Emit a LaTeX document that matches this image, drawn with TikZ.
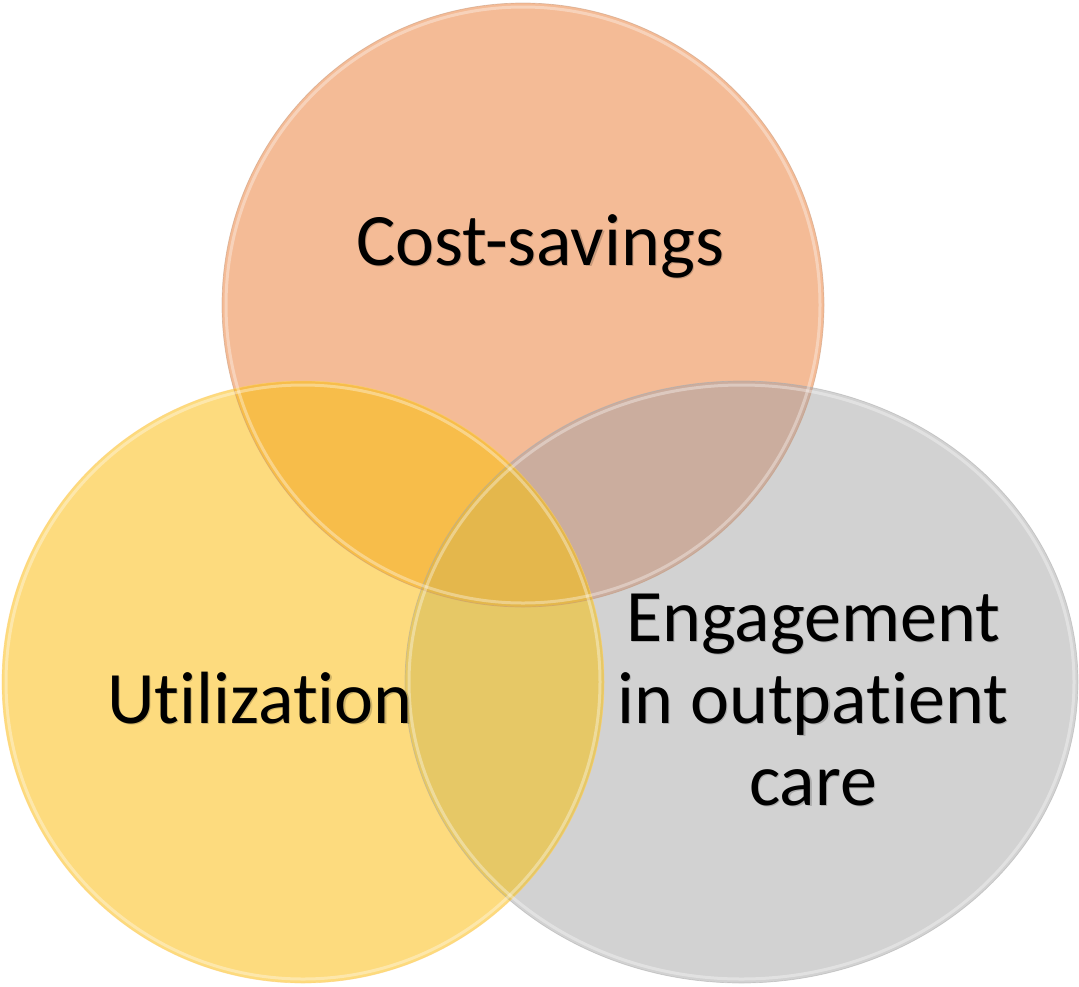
\documentclass[tikz,border=0pt]{standalone}
\usepackage{fontspec}
\setmainfont[Ligatures=NoCommon]{Carlito}
\definecolor{corange}{HTML}{F4BB96}
\definecolor{cyellow}{HTML}{FDDB7E}
\definecolor{cgray}{HTML}{D2D2D2}
\definecolor{cOY}{HTML}{F7BD4A}
\definecolor{cOG}{HTML}{CBAD9E}
\definecolor{cYG}{HTML}{E6C866}
\definecolor{cOYG}{HTML}{E4B74C}
\tikzset{
  lbl/.style={inner sep=0pt, text=black, font=\fontsize{74}{82}\selectfont},
  lblshadow/.style={inner sep=0pt, text=black, text opacity=0.18, font=\fontsize{74}{82}\selectfont},
  rimdark/.style={line width=0.7pt, draw opacity=0.5},
  rimlight/.style={line width=3pt, draw=white, draw opacity=0.35},
}
\newcommand{\orangepath}{(523,305) ellipse [x radius=301pt, y radius=302pt]}
\newcommand{\yellowpath}{(303,682) ellipse [x radius=301pt, y radius=301pt]}
\newcommand{\graypath}{(741.5,682) ellipse [x radius=336.5pt, y radius=301pt]}
\begin{document}
\begin{tikzpicture}[x=1pt,y=-1pt]
\useasboundingbox (0,0) rectangle (1079,986);
% base fills
\fill[corange] \orangepath;
\fill[cgray] \graypath;
\fill[cyellow] \yellowpath;
% pairwise overlaps
\begin{scope}
  \clip \orangepath;
  \fill[cOY] \yellowpath;
  \fill[cOG] \graypath;
\end{scope}
\begin{scope}
  \clip \yellowpath;
  \fill[cYG] \graypath;
\end{scope}
\begin{scope}
  \clip \orangepath;
  \clip \yellowpath;
  \fill[cOYG] \graypath;
\end{scope}
% rims
\draw[rimdark, draw=corange!80!black] \orangepath;
\draw[rimdark, draw=cgray!80!black] \graypath;
\draw[rimdark, draw=cyellow!85!orange] \yellowpath;
\draw[rimlight] (523,305) ellipse [x radius=297pt, y radius=298pt];
\draw[rimlight] (741.5,682) ellipse [x radius=332.5pt, y radius=297pt];
\draw[rimlight] (303,682) ellipse [x radius=297pt, y radius=297pt];
% label shadows
\node[lblshadow, anchor=base] (costs) at (541.2,266.2) {Cost-savings};
\node[lblshadow, anchor=base] (utils) at (261.2,724.2) {Utilization};
\node[lblshadow, anchor=base] (eng1s) at (814.2,642.2) {Engagement};
\node[lblshadow, anchor=base] (eng2s) at (814.2,724.2) {in outpatient};
\node[lblshadow, anchor=base] (eng3s) at (814.2,806.2) {care};
% labels
\node[lbl, anchor=base] (cost) at (540,265) {Cost-savings};
\node[lbl, anchor=base] (util) at (260,723) {Utilization};
\node[lbl, anchor=base] (eng1) at (813,641) {Engagement};
\node[lbl, anchor=base] (eng2) at (813,723) {in outpatient};
\node[lbl, anchor=base] (eng3) at (813,805) {care};
\end{tikzpicture}
\end{document}
